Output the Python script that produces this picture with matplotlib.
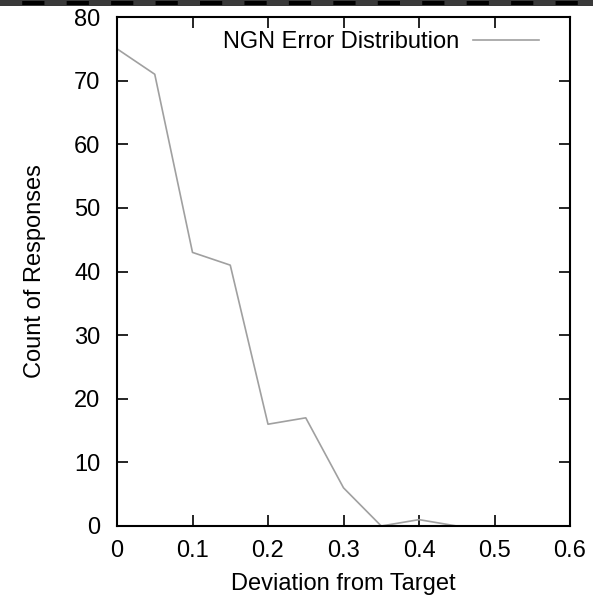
import matplotlib
matplotlib.use("Agg")
import matplotlib.pyplot as plt
from matplotlib.lines import Line2D

# error distribution
deviation = [0.0, 0.05, 0.1, 0.15, 0.2, 0.25, 0.3, 0.35, 0.4, 0.45]
counts = [75, 71, 43, 41, 16, 17, 6, 0, 1, 0]
xticks = [0, 0.1, 0.2, 0.3, 0.4, 0.5, 0.6]
xticklabels = ['0', '0.1', '0.2', '0.3', '0.4', '0.5', '0.6']
yticks = [0, 10, 20, 30, 40, 50, 60, 70, 80]

plt.rcParams['font.family'] = ['Liberation Sans', 'DejaVu Sans']
plt.rcParams['font.size'] = 17

fig = plt.figure(figsize=(5.93, 5.99), dpi=100)
ax = fig.add_axes([117/593, 1 - 526/599, (570-117)/593, (526-17)/599])

ax.plot(deviation, counts, color='#a0a0a0', lw=1.2, label='NGN Error Distribution')
ax.set_xlim(0, 0.6)
ax.set_ylim(0, 80)
ax.set_xticks(xticks)
ax.set_xticklabels(xticklabels)
ax.set_yticks(yticks)
ax.tick_params(direction='in', length=8, width=1.2, top=True, right=True)
ax.tick_params(axis='x', pad=10)
ax.tick_params(axis='y', pad=12)
for s in ax.spines.values():
    s.set_linewidth(1.5)

ax.set_xlabel('Deviation from Target', labelpad=8)
ax.set_ylabel('Count of Responses', labelpad=20)

leg = ax.legend(loc='upper right', frameon=False, markerfirst=False,
                handlelength=2.8, borderaxespad=0.2, handletextpad=0.6,
                bbox_to_anchor=(0.963, 1.0))

# dashed strip along the very top edge
fig.add_artist(Line2D([0, 1], [1 - 2.5/599, 1 - 2.5/599], transform=fig.transFigure,
                      color='black', lw=4))
fig.add_artist(Line2D([0, 1], [1 - 2.5/599, 1 - 2.5/599], transform=fig.transFigure,
                      color='#3a3a3a', lw=4, dashes=(4, 4)))

fig.savefig('out.png', dpi=100)
